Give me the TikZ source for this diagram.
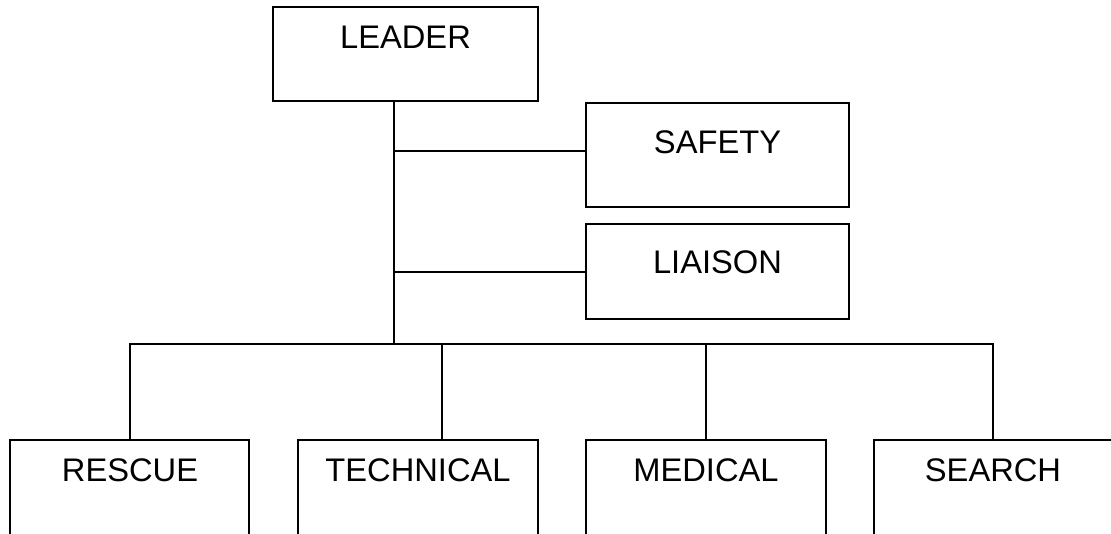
\documentclass[tikz,border=0pt]{standalone}
\usepackage{fontspec}
\setmainfont{Liberation Sans}
\begin{document}
\begin{tikzpicture}[x=0.75pt,y=-0.75pt,
  box/.style={draw=black,line width=1.3pt,rectangle,inner sep=0pt},
  lbl/.style={font=\fontsize{24.5}{29}\selectfont,inner sep=0pt},
  conn/.style={draw=black,line width=1.3pt}]
\clip (0,0) rectangle (1111,533);
\fill[white] (0,0) rectangle (1111,533);
% boxes
\node[box,minimum width=265*0.75pt,minimum height=94*0.75pt] (leader) at (405.5,54) {};
\node[lbl] (leaderT) at (405.5,37) {LEADER};
\node[box,minimum width=263*0.75pt,minimum height=104*0.75pt] (safety) at (717.5,155) {};
\node[lbl] (safetyT) at (717.5,142) {SAFETY};
\node[box,minimum width=263*0.75pt,minimum height=95*0.75pt] (liaison) at (717.5,271.5) {};
\node[lbl] (liaisonT) at (717.5,262) {LIAISON};
\node[box,minimum width=239*0.75pt,minimum height=140*0.75pt] (rescue) at (129.5,510) {};
\node[lbl] (rescueT) at (130,470) {RESCUE};
\node[box,minimum width=240*0.75pt,minimum height=140*0.75pt] (technical) at (418,510) {};
\node[lbl] (technicalT) at (418,470) {TECHNICAL};
\node[box,minimum width=240*0.75pt,minimum height=140*0.75pt] (medical) at (706,510) {};
\node[lbl] (medicalT) at (706,470) {MEDICAL};
\node[box,minimum width=240*0.75pt,minimum height=140*0.75pt] (search) at (994,510) {};
\node[lbl] (searchT) at (993,470) {SEARCH};
% connectors
\coordinate (bus) at (394,344);
\coordinate (sj) at (394,151);
\coordinate (lj) at (394,272);
\coordinate (rx) at (130,344);
\coordinate (tx) at (442,344);
\coordinate (sx) at (993,344);
\draw[conn] (leader.south -| bus) -- (bus);
\draw[conn] (sj) -- (sj -| safety.west);
\draw[conn] (lj) -- (lj -| liaison.west);
\draw[conn] (rx |- rescue.north) -- (rx) -- (sx) -- (sx |- search.north);
\draw[conn] (tx) -- (tx |- technical.north);
\draw[conn] (medical.north |- bus) -- (medical.north);
\end{tikzpicture}
\end{document}
